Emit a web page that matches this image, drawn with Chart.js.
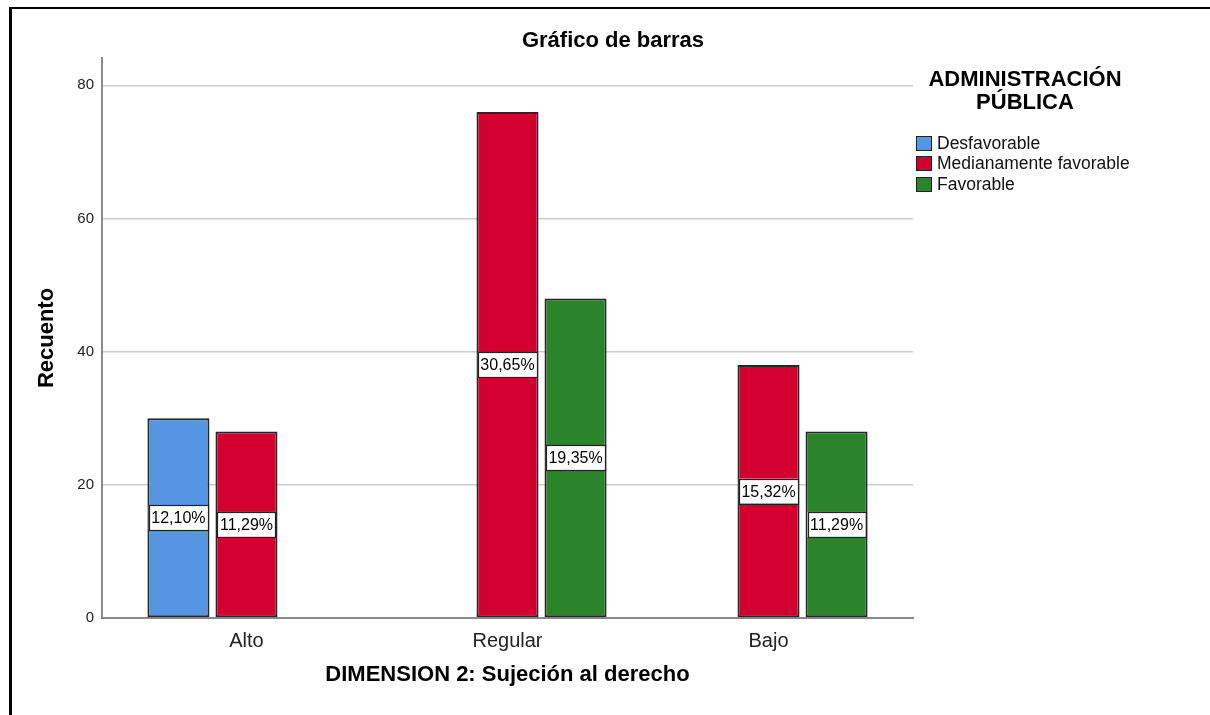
<!DOCTYPE html>
<html lang="es">
<head>
<meta charset="utf-8">
<title>Gráfico de barras</title>
<script src="https://cdn.jsdelivr.net/npm/chart.js@4.4.1/dist/chart.umd.min.js"></script>
<style>
  html, body { margin: 0; padding: 0; background: #fff; }
  body { width: 1210px; height: 715px; position: relative; overflow: hidden; font-family: "Liberation Sans", Arial, sans-serif; }
  #frame { position: absolute; left: 9px; top: 7px; right: -10px; bottom: -10px; border-left: 3px solid #000; border-top: 2px solid #000; }
  #chart { position: absolute; left: 0; top: 0; }
  #title { position: absolute; left: 413px; top: 29px; width: 400px; text-align: center; font-weight: bold; font-size: 22px; line-height: 22px; color: #000; }
  #legend { position: absolute; left: 905px; top: 68px; width: 240px; }
  #legend .head { text-align: center; font-weight: bold; font-size: 22px; line-height: 22.7px; color: #000; }
  #legend .items { position: absolute; left: 11px; top: 65px; }
  #legend .row { display: flex; align-items: center; height: 20.5px; font-size: 17.5px; color: #111; white-space: nowrap; }
  #legend .sw { width: 14px; height: 13px; border: 1.5px solid #222; margin-right: 5px; }
</style>
</head>
<body>
<canvas id="chart" width="1210" height="715"></canvas>
<div id="frame"></div>
<div id="title">Gráfico de barras</div>
<div id="legend">
  <div class="head">ADMINISTRACIÓN<br>PÚBLICA</div>
  <div class="items" id="legendItems"></div>
</div>
<script>
// categorías del eje X y recuentos por nivel de administración pública
const categories = ['Alto', 'Regular', 'Bajo'];
const seriesNames = ['Desfavorable', 'Medianamente favorable', 'Favorable'];
const desfavorable = [30, null, null];
const medianamente = [28, 76, 38];
const favorable = [null, 48, 28];
const yTicks = [0, 20, 40, 60, 80];

const colors = ['#5595e4', '#d3002f', '#2a852a'];
const allSeries = [desfavorable, medianamente, favorable];
const total = allSeries.flat().reduce((acc, v) => acc + (v || 0), 0);

const fontFamily = '"Liberation Sans", Arial, sans-serif';

// etiquetas de porcentaje en el centro de cada barra
const pctLabels = {
  id: 'pctLabels',
  afterDatasetsDraw(chart) {
    const ctx = chart.ctx;
    ctx.save();
    ctx.font = '16px ' + fontFamily;
    ctx.textAlign = 'center';
    ctx.textBaseline = 'middle';
    chart.data.datasets.forEach((ds, di) => {
      const meta = chart.getDatasetMeta(di);
      meta.data.forEach((bar, i) => {
        const v = ds.data[i].y;
        if (v === null) return;
        const text = (v / total * 100).toFixed(2).replace('.', ',') + '%';
        const w = ctx.measureText(text).width + 5;
        const h = 25;
        const cy = (bar.y + bar.base) / 2;
        ctx.fillStyle = '#fff';
        ctx.fillRect(bar.x - w / 2, cy - h / 2, w, h);
        ctx.strokeStyle = '#222';
        ctx.lineWidth = 1.2;
        ctx.strokeRect(Math.round(bar.x - w / 2) + 0.5, Math.round(cy - h / 2) + 0.5, Math.round(w), h);
        ctx.fillStyle = '#000';
        ctx.fillText(text, bar.x, cy + 1);
      });
    });
    ctx.restore();
  }
};

const data = {
  datasets: allSeries.map((values, si) => ({
    label: seriesNames[si],
    data: values.map((v, i) => ({ x: i, y: v })),
    backgroundColor: colors[si],
    borderColor: '#262626',
    borderWidth: 2,
    borderSkipped: false,
    categoryPercentage: 0.782,
    barPercentage: 0.912,
  })),
};

const config = {
  type: 'bar',
  data: data,
  plugins: [pctLabels],
  options: {
    responsive: false,
    animation: false,
    devicePixelRatio: 1,
    layout: { padding: { left: 0, top: 58, right: 297, bottom: 0 } },
    plugins: {
      legend: { display: false },
      tooltip: { enabled: false },
    },
    scales: {
      x: {
        type: 'linear',
        min: -0.5535,
        max: 2.5535,
        bounds: 'data',
        offset: false,
        grid: { display: false, drawTicks: false, offset: false },
        border: { display: true, color: '#8a8a8a', width: 2 },
        afterBuildTicks: (scale) => { scale.ticks = categories.map((c, i) => ({ value: i })); },
        afterFit: (scale) => { scale.height = 97; },
        ticks: {
          padding: 11,
          color: '#222',
          font: { family: fontFamily, size: 20 },
          callback: (value) => categories[value],
        },
        title: {
          display: true,
          text: 'DIMENSION 2: Sujeción al derecho',
          color: '#000',
          font: { family: fontFamily, size: 22, weight: 'bold' },
          padding: { top: 0, bottom: 27 },
        },
      },
      y: {
        min: 0,
        max: 84.1,
        bounds: 'data',
        grid: { color: '#cdcdcd', lineWidth: 1.5, drawTicks: false },
        border: { display: true, color: '#8a8a8a', width: 2 },
        afterBuildTicks: (scale) => { scale.ticks = yTicks.map((v) => ({ value: v })); },
        afterFit: (scale) => { scale.width = 102; },
        ticks: {
          padding: 8,
          color: '#222',
          font: { family: fontFamily, size: 15 },
        },
        title: {
          display: true,
          text: 'Recuento',
          color: '#000',
          font: { family: fontFamily, size: 22, weight: 'bold' },
          padding: { top: 34, bottom: 0 },
        },
      },
    },
  },
};

new Chart(document.getElementById('chart').getContext('2d'), config);

// leyenda
const legendItems = document.getElementById('legendItems');
seriesNames.forEach((name, i) => {
  const row = document.createElement('div');
  row.className = 'row';
  const sw = document.createElement('span');
  sw.className = 'sw';
  sw.style.background = colors[i];
  row.appendChild(sw);
  row.appendChild(document.createTextNode(name));
  legendItems.appendChild(row);
});
</script>
</body>
</html>
